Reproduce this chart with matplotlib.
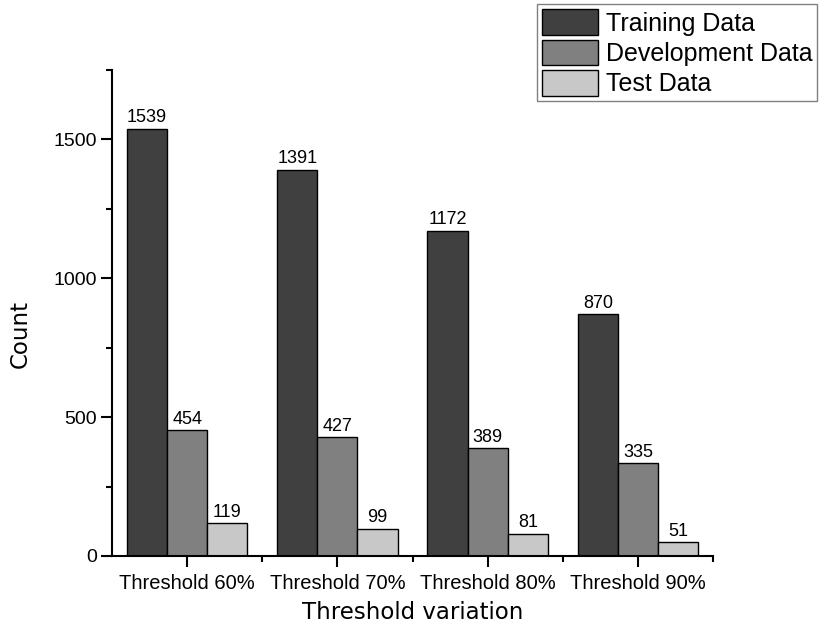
import matplotlib
matplotlib.use("Agg")
import matplotlib.pyplot as plt
import numpy as np
from matplotlib.ticker import MultipleLocator, FixedLocator

# data
categories = ["Threshold 60%", "Threshold 70%", "Threshold 80%", "Threshold 90%"]
training = [1539, 1391, 1172, 870]
development = [454, 427, 389, 335]
test = [119, 99, 81, 51]
series_names = ["Training Data", "Development Data", "Test Data"]
colors = ["#404040", "#808080", "#c8c8c8"]

fig = plt.figure(figsize=(8.19, 6.25), dpi=100)
ax = fig.add_axes([0.1368, 0.1104, 0.7338, 0.7776])

x = np.arange(len(categories))
w = 0.267
handles = []
for i, (vals, name, col) in enumerate(zip([training, development, test], series_names, colors)):
    bars = ax.bar(x + (i - 1) * w, vals, w, color=col, edgecolor="black", linewidth=1.0, label=name)
    handles.append(bars)
    for b, v in zip(bars, vals):
        ax.text(b.get_x() + b.get_width() / 2, v + 8, str(v), ha="center", va="bottom",
                fontsize=13, family="Liberation Sans")

ax.set_xlim(-0.5, 3.5)
ax.set_ylim(0, 1750)
ax.set_xticks(x)
ax.set_xticklabels(categories, fontsize=14.5, family="Liberation Sans")
ax.xaxis.set_minor_locator(FixedLocator([0.5, 1.5, 2.5, 3.5]))
ax.yaxis.set_major_locator(MultipleLocator(500))
ax.yaxis.set_minor_locator(MultipleLocator(250))
for lab in ax.get_yticklabels():
    lab.set_family("Liberation Sans")
    lab.set_fontsize(14)
ax.tick_params(axis="both", which="major", direction="out", length=8, width=1.5, color="black")
ax.tick_params(axis="both", which="minor", direction="out", length=4, width=1.5, color="black")
ax.tick_params(axis="x", pad=5)
ax.tick_params(axis="y", pad=3)

for s in ["top", "right"]:
    ax.spines[s].set_visible(False)
for s in ["left", "bottom"]:
    ax.spines[s].set_linewidth(1.5)

ax.set_xlabel("Threshold variation", fontsize=16.5, family="DejaVu Sans", labelpad=6)
ax.set_ylabel("Count", fontsize=16.5, family="DejaVu Sans")
ax.yaxis.set_label_coords(-0.133, 0.457)

leg = fig.legend(handles=handles, labels=series_names, loc="upper right",
                 bbox_to_anchor=(0.998, 0.993), prop={"family": "Liberation Sans", "size": 18},
                 fancybox=False, edgecolor="#808080", framealpha=1,
                 handlelength=2.25, handleheight=1.2, handletextpad=0.3,
                 labelspacing=0.16, borderpad=0.2, borderaxespad=0)
leg.get_frame().set_linewidth(1.0)

fig.savefig("out.png", dpi=100)
